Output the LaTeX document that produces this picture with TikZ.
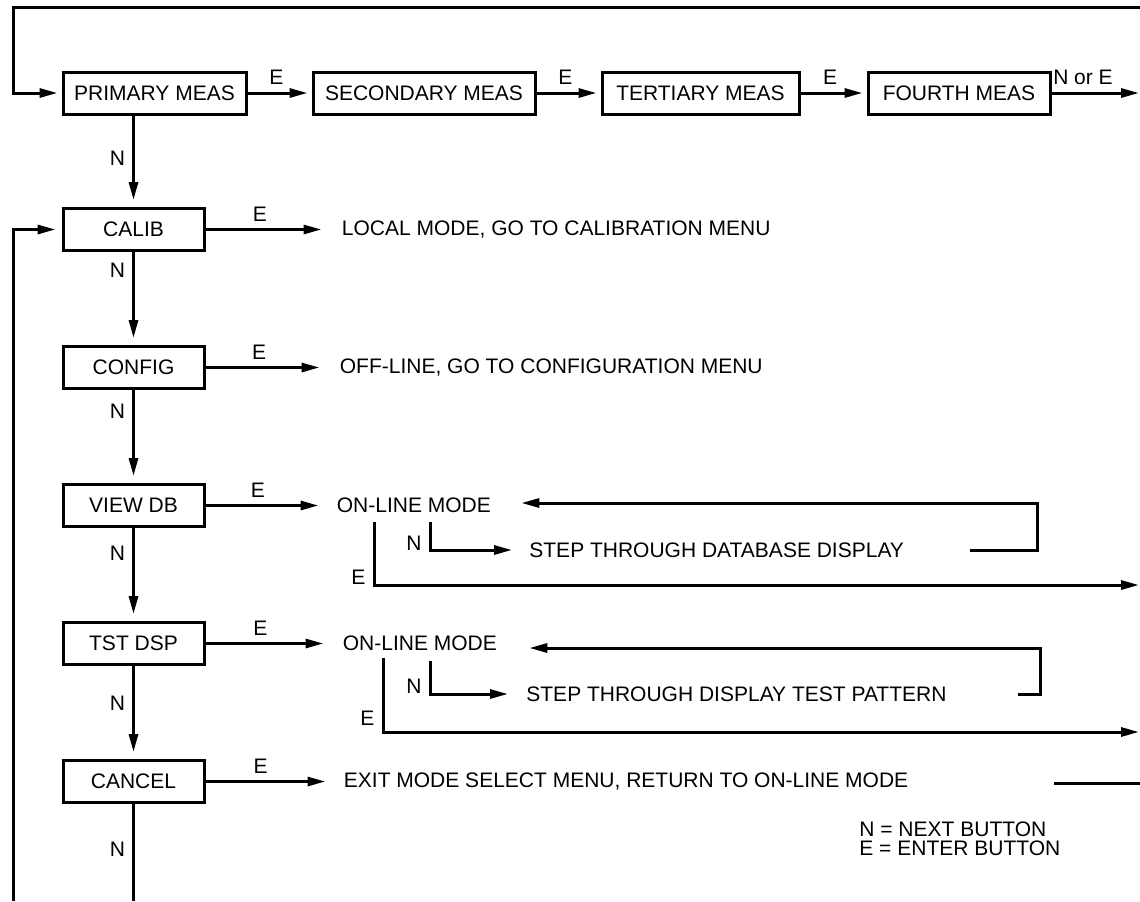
\documentclass[tikz,border=0pt]{standalone}
\usepackage{fontspec}
\setmainfont{Liberation Sans}
\usetikzlibrary{arrows.meta,positioning}

\begin{document}
\begin{tikzpicture}[
    x=0.5pt, y=-0.5pt,
    font=\fontsize{10.5pt}{12.6pt}\selectfont,
    menubox/.style={
        draw,
        line width=1.5pt,
        minimum width=#1,
        minimum height=21pt,
        inner sep=0pt
    },
    menubox/.default=70.5pt,
    msg/.style={
        anchor=west,
        inner sep=0pt
    },
    keylabel/.style={
        inner sep=3.5pt
    },
    flow/.style={
        -{Triangle[length=9pt,width=4.5pt]},
        line width=1.5pt
    },
    wire/.style={
        line width=1.5pt
    }
]
\useasboundingbox (0,0) rectangle (1140,901);

% measurement row
\node[menubox=91.5pt] (primary) at (154.5,93) {PRIMARY MEAS};
\node[menubox=111pt, right=32pt of primary] (secondary) {SECONDARY MEAS};
\node[menubox=98.5pt, right=32pt of secondary] (tertiary) {TERTIARY MEAS};
\node[menubox=91pt, right=33pt of tertiary] (fourth) {FOURTH MEAS};

\draw[flow, shorten >=2pt] (primary.east) -- node[keylabel, above, pos=0.45] (primaryE) {E} (secondary.west);
\draw[flow, shorten >=2pt] (secondary.east) -- node[keylabel, above, pos=0.45] (secondaryE) {E} (tertiary.west);
\draw[flow, shorten >=2pt] (tertiary.east) -- node[keylabel, above, pos=0.45] (tertiaryE) {E} (fourth.west);

\coordinate (fourthout) at (1139,93);
\draw[flow] (fourth.east) -- node[keylabel, above, pos=0.36] (fourthNE) {N or E} (fourthout);

\coordinate (loopTR) at (1140,7);
\coordinate (loopTL) at (13,7);
\draw[flow, shorten >=2pt] (loopTR) -- (loopTL) |- (primary.west);

% mode select column
\node[menubox] (calib) at (133.5,229.5) {CALIB};
\node[menubox, below=46.5pt of calib] (config) {CONFIG};
\node[menubox, below=46.5pt of config] (viewdb) {VIEW DB};
\node[menubox, below=46.5pt of viewdb] (tstdsp) {TST DSP};
\node[menubox, below=46.5pt of tstdsp] (cancel) {CANCEL};

\draw[flow, shorten >=3.5pt] (calib.north |- primary.south) -- node[keylabel, left, pos=0.47] (primaryN) {N} (calib.north);
\draw[flow, shorten >=3.5pt] (calib.south) -- node[keylabel, left, pos=0.2] (calibN) {N} (config.north);
\draw[flow, shorten >=3.5pt] (config.south) -- node[keylabel, left, pos=0.23] (configN) {N} (viewdb.north);
\draw[flow, shorten >=3.5pt] (viewdb.south) -- node[keylabel, left, pos=0.27] (viewdbN) {N} (tstdsp.north);
\draw[flow, shorten >=3.5pt] (tstdsp.south) -- node[keylabel, left, pos=0.4] (tstdspN) {N} (cancel.north);

\coordinate (cancelout) at (133.5,901);
\draw[wire] (cancel.south) -- node[keylabel, left, pos=0.47] (cancelN) {N} (cancelout);

\coordinate (loopB) at (13,901);
\draw[flow, shorten >=3pt] (loopB) |- (calib.west);

% enter results
\node[msg, right=68pt of calib] (calibmsg) {LOCAL MODE, GO TO CALIBRATION MENU};
\node[msg, right=67pt of config] (configmsg) {OFF-LINE, GO TO CONFIGURATION MENU};
\node[msg, right=65.5pt of viewdb] (dbonline) {ON-LINE MODE};
\node[msg, right=68.5pt of tstdsp] (tsonline) {ON-LINE MODE};
\node[msg, right=69pt of cancel] (exitmsg) {EXIT MODE SELECT MENU, RETURN TO ON-LINE MODE};

\draw[flow, shorten >=10pt] (calib.east) -- node[keylabel, above, pos=0.4] (calibE) {E} (calibmsg.west);
\draw[flow, shorten >=10pt] (config.east) -- node[keylabel, above, pos=0.4] (configE) {E} (configmsg.west);
\draw[flow, shorten >=9pt] (viewdb.east) -- node[keylabel, above, pos=0.4] (viewdbE) {E} (dbonline.west);
\draw[flow, shorten >=9.5pt] (tstdsp.east) -- node[keylabel, above, pos=0.4] (tstdspE) {E} (tsonline.west);
\draw[flow, shorten >=9pt] (cancel.east) -- node[keylabel, above, pos=0.4] (cancelE) {E} (exitmsg.west);

% database display loop
\node[msg] (dbstepmsg) at (529,550) {STEP THROUGH DATABASE DISPLAY};
\coordinate (dbEtop) at (374,522);
\coordinate (dbEout) at (1139,585);
\coordinate (dbNtop) at (430,522);
\coordinate (dbloopS) at (970,550);
\coordinate (dbloopR) at (1037,503);
\draw[flow] (dbEtop) |- node[keylabel, left, pos=0.44] (dbE) {E} (dbEout);
\draw[flow, shorten >=8.5pt] (dbNtop) |- node[keylabel, left, pos=0.38] (dbN) {N} (dbstepmsg.west);
\draw[flow, shorten >=15pt] (dbloopS) -| (dbloopR) -- (dbloopR -| dbonline.east);

% display test loop
\node[msg] (tsstepmsg) at (526,694) {STEP THROUGH DISPLAY TEST PATTERN};
\coordinate (tsEtop) at (383,658);
\coordinate (tsEout) at (1139,732);
\coordinate (tsNtop) at (430,661);
\coordinate (tsloopS) at (1018,694);
\coordinate (tsloopR) at (1040,648);
\draw[flow] (tsEtop) |- node[keylabel, left, pos=0.41] (tsE) {E} (tsEout);
\draw[flow, shorten >=9pt] (tsNtop) |- node[keylabel, left, pos=0.39] (tsN) {N} (tsstepmsg.west);
\draw[flow, shorten >=16pt] (tsloopS) -| (tsloopR) -- (tsloopR -| tsonline.east);

% return to on-line
\coordinate (exitL) at (1054,783);
\coordinate (exitR) at (1140,783);
\draw[wire] (exitL) -- (exitR);

% key
\node[msg] (legendN) at (859,829) {N = NEXT BUTTON};
\node[msg, below=2pt of legendN.south west, anchor=north west] (legendE) {E = ENTER BUTTON};

\end{tikzpicture}
\end{document}
